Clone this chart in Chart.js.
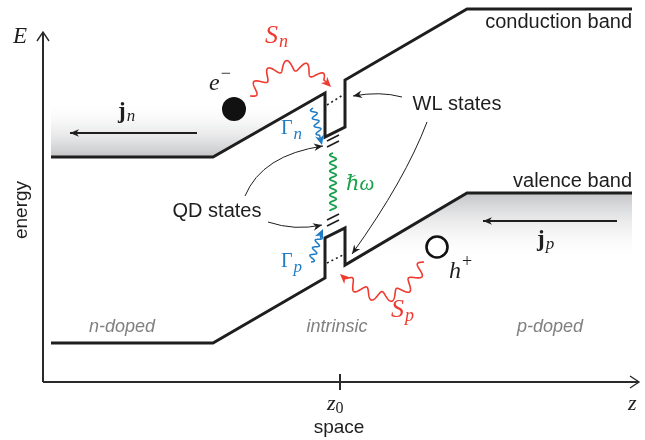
<!DOCTYPE html>
<html>
<head>
<meta charset="utf-8">
<script src="https://cdn.jsdelivr.net/npm/chart.js@4.4.1/dist/chart.umd.min.js"></script>
<style>
  body { margin: 0; background: #fff; }
  canvas { display: block; }
</style>
</head>
<body>
<canvas id="bandChart" width="645" height="440"></canvas>
<script>
// band edges along z (arbitrary units), conduction and valence
var bandZ = [0.8, 17.0, 28.2, 28.2, 30.2, 30.2, 42.4, 58.9];
var conductionE = [22.5, 22.5, 28.9, 24.5, 25.5, 30.2, 37.3, 37.3];
var valenceE = [3.9, 3.9, 10.4, 14.4, 15.4, 11.7, 18.9, 18.9];

// wetting layer states (dotted) inside the well
var wlZ = [28.4, 30.0];
var wlConductionE = [27.7, 28.7];
var wlValenceE = [11.9, 12.7];

// quantum dot levels (short double dashes)
var qdZ = [28.4, 29.6];
var qdConduction = [[24.1, 24.7], [23.5, 24.1]];
var qdValence = [[16.2, 16.8], [15.6, 16.2]];

// shaded carrier reservoirs
var nFillZ = [0.8, 17.0, 28.2];
var nFillE = [22.5, 22.5, 28.9];
var nFillTop = 28.2;
var pFillZ = [30.2, 42.4, 58.9];
var pFillE = [11.7, 18.9, 18.9];
var pFillBottom = 12.0;

var z0 = 29.7;

function pts(xs, ys) {
    return xs.map(function (x, i) { return { x: x, y: ys[i] }; });
}

var RED = '#ee3a2f', BLUE = '#1f7bc4', GREEN = '#18a04a', INK = '#1e1e1e';
var SERIF = '"Liberation Serif", "DejaVu Serif", serif';
var SANS = '"Liberation Sans", Arial, sans-serif';

function gradientFill(from, to) {
    return function (context) {
        var chart = context.chart;
        if (!chart.chartArea) return 'rgba(0,0,0,0)';
        var ys = chart.scales.y;
        var g = chart.ctx.createLinearGradient(0, ys.getPixelForValue(from), 0, ys.getPixelForValue(to));
        g.addColorStop(0, '#c4c5c7');
        g.addColorStop(1, 'rgba(255,255,255,0)');
        return g;
    };
}

function arrowHead(ctx, tx, ty, ang, len, wid, color) {
    ctx.save();
    ctx.translate(tx, ty);
    ctx.rotate(ang);
    ctx.beginPath();
    ctx.moveTo(0, 0);
    ctx.lineTo(-len, -wid);
    ctx.lineTo(-len * 0.7, 0);
    ctx.lineTo(-len, wid);
    ctx.closePath();
    ctx.fillStyle = color;
    ctx.fill();
    ctx.restore();
}

function quad(p0, c, p1, t) {
    var u = 1 - t;
    return {
        x: u * u * p0[0] + 2 * u * t * c[0] + t * t * p1[0],
        y: u * u * p0[1] + 2 * u * t * c[1] + t * t * p1[1],
        dx: 2 * u * (c[0] - p0[0]) + 2 * t * (p1[0] - c[0]),
        dy: 2 * u * (c[1] - p0[1]) + 2 * t * (p1[1] - c[1])
    };
}

// wavy line along a quadratic curve, optional arrow head at the end
function wave(ctx, p0, c, p1, amp, wl, color, lw, withHead) {
    var N = 400, list = [], L = 0, prev = null;
    for (var i = 0; i <= N; i++) {
        var q = quad(p0, c, p1, i / N);
        if (prev) L += Math.hypot(q.x - prev.x, q.y - prev.y);
        q.s = L;
        list.push(q);
        prev = q;
    }
    var hl = withHead ? 9 : 0;
    ctx.beginPath();
    var first = true;
    list.forEach(function (p) {
        if (p.s > L - hl - 1) return;
        var n = Math.hypot(p.dx, p.dy);
        var o = amp * Math.sin(2 * Math.PI * p.s / wl);
        var px = p.x - p.dy / n * o, py = p.y + p.dx / n * o;
        if (first) { ctx.moveTo(px, py); first = false; } else ctx.lineTo(px, py);
    });
    if (withHead) {
        var e = quad(p0, c, p1, 1);
        var a = Math.atan2(e.dy, e.dx);
        ctx.lineTo(p1[0] - Math.cos(a) * (hl - 2), p1[1] - Math.sin(a) * (hl - 2));
    }
    ctx.strokeStyle = color;
    ctx.lineWidth = lw;
    ctx.lineJoin = 'round';
    ctx.stroke();
    if (withHead) {
        var end = quad(p0, c, p1, 1);
        arrowHead(ctx, p1[0], p1[1], Math.atan2(end.dy, end.dx), 10, 4.5, color);
    }
}

function curveArrow(ctx, p0, c, p1, color, lw) {
    ctx.beginPath();
    ctx.moveTo(p0[0], p0[1]);
    ctx.quadraticCurveTo(c[0], c[1], p1[0], p1[1]);
    ctx.strokeStyle = color;
    ctx.lineWidth = lw;
    ctx.stroke();
    arrowHead(ctx, p1[0], p1[1], Math.atan2(p1[1] - c[1], p1[0] - c[0]), 9, 3.8, color);
}

// draw a run of text pieces: [text, font, dy, color]
function mathText(ctx, parts, x, y) {
    var cx = x;
    parts.forEach(function (p) {
        ctx.font = p[1];
        ctx.fillStyle = p[3];
        ctx.textAlign = 'left';
        ctx.textBaseline = 'alphabetic';
        ctx.fillText(p[0], cx, y + (p[2] || 0));
        cx += ctx.measureText(p[0]).width + (p[4] || 0);
    });
}

function label(ctx, s, x, y, font, color, align) {
    ctx.font = font;
    ctx.fillStyle = color;
    ctx.textAlign = align || 'center';
    ctx.textBaseline = 'middle';
    ctx.fillText(s, x, y);
}

var sketchPlugin = {
    id: 'sketch',
    afterDatasetsDraw: function (chart) {
        var ctx = chart.ctx;
        var xs = chart.scales.x, ys = chart.scales.y;
        var X = function (v) { return xs.getPixelForValue(v); };
        var Y = function (v) { return ys.getPixelForValue(v); };
        var P = function (a, b) { return [X(a), Y(b)]; };
        ctx.save();

        // axes
        var ox = X(0), oy = Y(0);
        ctx.strokeStyle = '#2a2a2a';
        ctx.lineWidth = 2;
        ctx.beginPath();
        ctx.moveTo(ox, oy);
        ctx.lineTo(ox, Y(35.0));
        ctx.moveTo(ox, oy);
        ctx.lineTo(X(59.7) - 1, oy);
        ctx.stroke();
        ctx.lineWidth = 1.4;
        ctx.beginPath();
        ctx.moveTo(ox - 6, Y(35.0) + 9); ctx.lineTo(ox, Y(35.0)); ctx.lineTo(ox + 6, Y(35.0) + 9);
        ctx.moveTo(X(59.7) - 10, oy - 6); ctx.lineTo(X(59.7) - 1, oy); ctx.lineTo(X(59.7) - 10, oy + 6);
        ctx.stroke();
        ctx.lineWidth = 2;
        ctx.beginPath();
        ctx.moveTo(X(z0), oy - 8);
        ctx.lineTo(X(z0), oy + 8);
        ctx.stroke();

        // axis labels
        mathText(ctx, [['E', 'italic 23px ' + SERIF, 0, INK]], X(-3.0), Y(33.9));
        mathText(ctx, [['z', 'italic 22px ' + SERIF, 0, INK]], X(58.5), Y(-2.8));
        mathText(ctx, [['z', 'italic 22px ' + SERIF, 0, INK], ['0', '16px ' + SERIF, 3, INK]], X(28.4), Y(-2.8));
        label(ctx, 'space', X(29.6), Y(-4.6), '19px ' + SANS, INK);
        ctx.save();
        ctx.translate(X(-2.1), Y(17.2));
        ctx.rotate(-Math.PI / 2);
        label(ctx, 'energy', 0, 0, '19px ' + SANS, INK);
        ctx.restore();

        // band names and regions
        label(ctx, 'conduction band', X(58.9), Y(36.0), '20px ' + SANS, INK, 'right');
        label(ctx, 'valence band', X(58.9), Y(20.1), '20px ' + SANS, INK, 'right');
        label(ctx, 'WL states', X(41.4), Y(27.8), '20px ' + SANS, INK);
        label(ctx, 'QD states', X(17.4), Y(17.1), '20px ' + SANS, INK);
        label(ctx, 'n-doped', X(7.9), Y(5.5), 'italic 18px ' + SANS, '#808080');
        label(ctx, 'intrinsic', X(29.4), Y(5.5), 'italic 18px ' + SANS, '#808080');
        label(ctx, 'p-doped', X(50.7), Y(5.5), 'italic 18px ' + SANS, '#808080');

        // carriers
        ctx.beginPath();
        ctx.arc(X(19.1), Y(27.3), 12, 0, Math.PI * 2);
        ctx.fillStyle = '#111';
        ctx.fill();
        ctx.beginPath();
        ctx.arc(X(39.4), Y(13.5), 10.5, 0, Math.PI * 2);
        ctx.fillStyle = '#fff';
        ctx.fill();
        ctx.lineWidth = 2.6;
        ctx.strokeStyle = '#111';
        ctx.stroke();
        mathText(ctx, [['e', 'italic 24px ' + SERIF, 0, INK, 1], ['\u2212', '18px ' + SERIF, -11, INK]], X(16.6), Y(29.2));
        mathText(ctx, [['h', 'italic 24px ' + SERIF, 0, INK, 1], ['+', '18px ' + SERIF, -11, INK]], X(40.6), Y(10.4));

        // currents
        curveArrow(ctx, P(15.4, 24.9), P(9.0, 24.9), P(2.7, 24.9), INK, 1.8);
        curveArrow(ctx, P(57.4, 16.1), P(50.7, 16.1), P(44.0, 16.1), INK, 1.8);
        mathText(ctx, [['j', 'bold 23px ' + SERIF, 0, INK, 1], ['n', 'italic 17px ' + SERIF, 3, INK]], X(7.5), Y(26.4));
        mathText(ctx, [['j', 'bold 23px ' + SERIF, 0, INK, 1], ['p', 'italic 17px ' + SERIF, 3, INK]], X(49.4), Y(13.6));

        // scattering into WL
        wave(ctx, P(20.7, 28.6), P(24.2, 34.2), P(28.8, 29.5), 5.2, 18, RED, 1.6, true);
        wave(ctx, P(38.1, 12.0), P(35.2, 5.7), P(29.7, 10.8), 5.2, 18, RED, 1.6, true);
        mathText(ctx, [['S', 'italic 26px ' + SERIF, 0, RED, 1], ['n', 'italic 18px ' + SERIF, 4, RED]], X(22.2), Y(33.9));
        mathText(ctx, [['S', 'italic 26px ' + SERIF, 0, RED, 1], ['p', 'italic 18px ' + SERIF, 4, RED]], X(34.8), Y(6.5));

        // capture WL -> QD
        wave(ctx, P(27.0, 27.4), P(27.4, 25.6), P(27.9, 23.7), 3, 8, BLUE, 1.5, true);
        wave(ctx, P(26.8, 12.0), P(27.3, 13.7), P(28.0, 15.3), 3, 8, BLUE, 1.5, true);
        mathText(ctx, [['\u0393', '20px ' + SERIF, 0, BLUE, 1], ['n', 'italic 17px ' + SERIF, 5, BLUE]], X(23.8), Y(24.8));
        mathText(ctx, [['\u0393', '20px ' + SERIF, 0, BLUE, 1], ['p', 'italic 17px ' + SERIF, 5, BLUE]], X(23.8), Y(11.5));

        // photon emission
        wave(ctx, P(29.0, 22.9), P(29.0, 20.0), P(29.0, 17.0), 3.2, 8, GREEN, 1.8, false);
        mathText(ctx, [['\u210F\u03C9', 'italic 21px ' + SERIF, 0, GREEN]], X(30.3), Y(19.2));

        // pointer arrows
        curveArrow(ctx, P(20.2, 18.6), P(21.9, 22.7), P(28.0, 23.6), INK, 1);
        curveArrow(ctx, P(22.5, 16.0), P(25.2, 15.1), P(27.9, 15.7), INK, 1);
        curveArrow(ctx, P(35.9, 28.5), P(33.7, 29.1), P(31.0, 28.6), INK, 1);
        curveArrow(ctx, P(38.4, 26.0), P(36.2, 20.2), P(30.9, 12.8), INK, 1);

        ctx.restore();
    }
};

var lineStyle = { pointRadius: 0, tension: 0, showLine: true, fill: false, borderJoinStyle: 'miter' };

var datasets = [
    Object.assign({}, lineStyle, { data: pts(nFillZ, nFillE), borderWidth: 0, borderColor: 'rgba(0,0,0,0)',
        backgroundColor: gradientFill(nFillE[0], nFillTop),
        fill: { target: { value: nFillTop }, above: 'rgba(0,0,0,0)' }, order: 10 }),
    Object.assign({}, lineStyle, { data: pts(pFillZ, pFillE), borderWidth: 0, borderColor: 'rgba(0,0,0,0)',
        backgroundColor: gradientFill(pFillE[2], pFillBottom),
        fill: { target: { value: pFillBottom }, below: 'rgba(0,0,0,0)' }, order: 10 }),
    Object.assign({}, lineStyle, { data: pts(bandZ, conductionE), borderColor: INK, borderWidth: 3 }),
    Object.assign({}, lineStyle, { data: pts(bandZ, valenceE), borderColor: INK, borderWidth: 3 }),
    Object.assign({}, lineStyle, { data: pts(wlZ, wlConductionE), borderColor: INK, borderWidth: 1.6, borderDash: [2, 3] }),
    Object.assign({}, lineStyle, { data: pts(wlZ, wlValenceE), borderColor: INK, borderWidth: 1.6, borderDash: [2, 3] })
];
qdConduction.concat(qdValence).forEach(function (lvl) {
    datasets.push(Object.assign({}, lineStyle, { data: pts(qdZ, lvl), borderColor: INK, borderWidth: 1.6 }));
});

new Chart(document.getElementById('bandChart').getContext('2d'), {
    type: 'scatter',
    data: { datasets: datasets },
    options: {
        responsive: false,
        devicePixelRatio: 1,
        animation: false,
        layout: { padding: { left: 43, right: 5, top: 0, bottom: 58 } },
        scales: {
            x: { type: 'linear', min: 0, max: 59.7, display: false },
            y: { type: 'linear', min: 0, max: 38.2, display: false }
        },
        plugins: {
            legend: { display: false },
            tooltip: { enabled: false }
        }
    },
    plugins: [sketchPlugin]
});
</script>
</body>
</html>
